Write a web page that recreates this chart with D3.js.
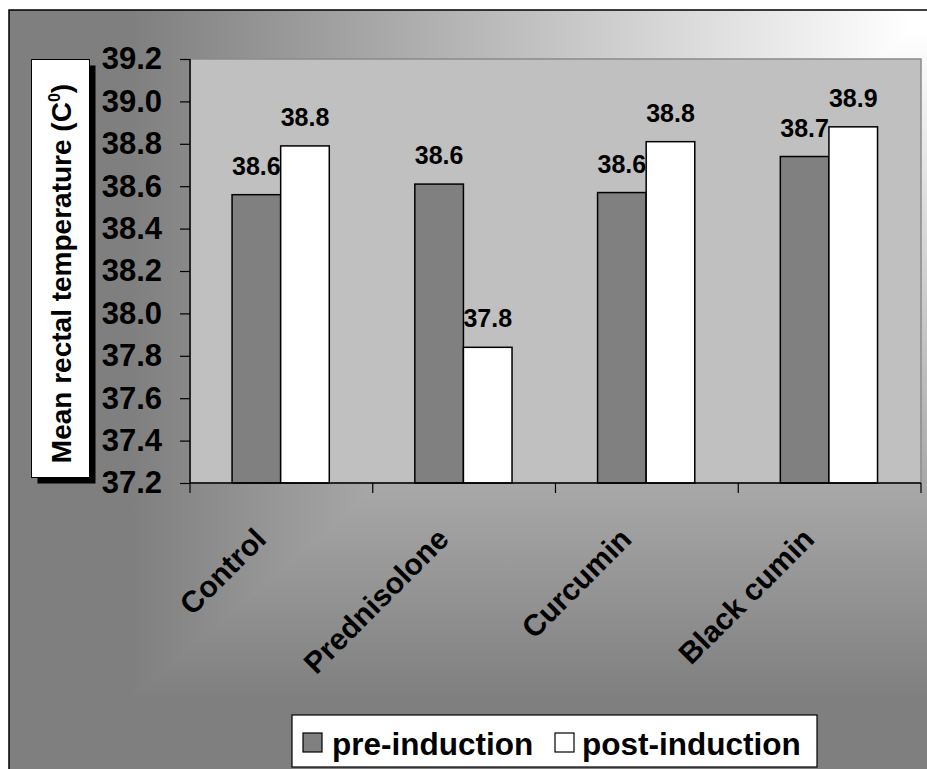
<!DOCTYPE html>
<html>
<head>
<meta charset="utf-8">
<script src="https://cdn.jsdelivr.net/npm/d3@7"></script>
<style>
  html, body { margin: 0; padding: 0; background: #ffffff; }
  svg { display: block; }
  text { font-family: "Liberation Sans", Arial, Helvetica, sans-serif; font-weight: bold; fill: #000; }
</style>
</head>
<body>
<svg id="chart" width="927" height="769"></svg>
<script>
// Mean rectal temperature per treatment group, before and after induction
const categories = ["Control", "Prednisolone", "Curcumin", "Black cumin"];
const seriesNames = ["pre-induction", "post-induction"];
const preInduction = [38.56, 38.61, 38.57, 38.74];
const postInduction = [38.79, 37.84, 38.81, 38.88];
const yTicks = [37.2, 37.4, 37.6, 37.8, 38.0, 38.2, 38.4, 38.6, 38.8, 39.0, 39.2];
const yTitle = "Mean rectal temperature (C";
const yTitleSup = "0";

const W = 927, H = 769;
const plot = { left: 190, right: 921, top: 59, bottom: 483 };
const seriesFill = { "pre-induction": "#808080", "post-induction": "#ffffff" };

const svg = d3.select("#chart");
const defs = svg.append("defs");

// Corner-style background shading: lightest at the top-right, darkening toward the left and the bottom
const gH = defs.append("linearGradient").attr("id", "bgH")
  .attr("gradientUnits", "userSpaceOnUse").attr("x1", 910).attr("y1", 0).attr("x2", 130).attr("y2", 0);
gH.append("stop").attr("offset", 0).attr("stop-color", "#ffffff");
gH.append("stop").attr("offset", 1).attr("stop-color", "#7f7f7f");
const gV = defs.append("linearGradient").attr("id", "bgV")
  .attr("gradientUnits", "userSpaceOnUse").attr("x1", 0).attr("y1", 30).attr("x2", 0).attr("y2", 700);
gV.append("stop").attr("offset", 0).attr("stop-color", "#ffffff");
gV.append("stop").attr("offset", 1).attr("stop-color", "#7f7f7f");

// split line through (910,30) and (130,700)
const slope = (700 - 30) / (130 - 910);
const yAtRight = 30 + slope * (W - 910);
const xAtBottom = 910 + (H - 30) / slope;
defs.append("clipPath").attr("id", "clipA").append("polygon")
  .attr("points", [[0, 0], [W, 0], [W, yAtRight], [xAtBottom, H], [0, H]].join(" "));
defs.append("clipPath").attr("id", "clipB").append("polygon")
  .attr("points", [[W, yAtRight - 1], [W, H], [xAtBottom - 1, H]].join(" "));

const bg = svg.append("g");
bg.append("rect").attr("x", 9).attr("y", 10).attr("width", W).attr("height", H)
  .attr("fill", "url(#bgH)").attr("clip-path", "url(#clipA)");
bg.append("rect").attr("x", 9).attr("y", 10).attr("width", W).attr("height", H)
  .attr("fill", "url(#bgV)").attr("clip-path", "url(#clipB)");
bg.append("rect").attr("x", 9).attr("y", 10).attr("width", W + 20).attr("height", H + 20)
  .attr("fill", "none").attr("stroke", "#000").attr("stroke-width", 1.5);

// Scales
const x0 = d3.scaleBand().domain(categories).range([plot.left, plot.right]).paddingInner(0).paddingOuter(0);
const x1 = d3.scaleBand().domain(seriesNames).range([0, x0.bandwidth()]).paddingInner(0).paddingOuter(0.88);
const y = d3.scaleLinear().domain([37.2, 39.2]).range([plot.bottom, plot.top]);
const fmt = d3.format(".1f");

// Plot area
svg.append("rect")
  .attr("x", plot.left).attr("y", plot.top)
  .attr("width", plot.right - plot.left).attr("height", plot.bottom - plot.top)
  .attr("fill", "#c0c0c0").attr("stroke", "#8a8a8a").attr("stroke-width", 1.5);

// Bars
const rows = categories.map((c, i) => ({
  category: c,
  values: [
    { series: "pre-induction", value: preInduction[i] },
    { series: "post-induction", value: postInduction[i] }
  ]
}));

const groups = svg.append("g").selectAll("g.group").data(rows).join("g")
  .attr("class", "group")
  .attr("transform", d => `translate(${x0(d.category) - 0.7},0)`);

groups.selectAll("rect").data(d => d.values).join("rect")
  .attr("x", d => x1(d.series))
  .attr("y", d => y(d.value))
  .attr("width", x1.bandwidth())
  .attr("height", d => y(37.2) - y(d.value))
  .attr("fill", d => seriesFill[d.series])
  .attr("stroke", "#000").attr("stroke-width", 1.5);

groups.selectAll("text.val").data(d => d.values).join("text")
  .attr("class", "val")
  .attr("x", d => x1(d.series) + x1.bandwidth() / 2)
  .attr("y", d => y(d.value) - 20)
  .attr("text-anchor", "middle")
  .style("font-size", "25px")
  .text(d => fmt(d.value));

// Y axis
const yAxis = d3.axisLeft(y).tickValues(yTicks).tickFormat(fmt).tickSize(10).tickPadding(18);
const yg = svg.append("g").attr("transform", `translate(${plot.left},0)`).call(yAxis);
yg.select(".domain").attr("stroke", "#000").attr("stroke-width", 1.5).attr("d", `M0,${plot.top}V${plot.bottom}`);
yg.selectAll(".tick line").attr("stroke", "#000").attr("stroke-width", 1.2);
yg.selectAll(".tick text")
  .style("font-size", "31px").style("font-family", '"Liberation Sans", Arial, sans-serif')
  .style("font-weight", "bold").attr("fill", "#000");

// X axis line and tick marks at category boundaries
const boundaries = categories.map(c => x0(c)).concat([plot.right]);
svg.append("line")
  .attr("x1", plot.left).attr("x2", plot.right)
  .attr("y1", plot.bottom).attr("y2", plot.bottom)
  .attr("stroke", "#000").attr("stroke-width", 1.5);
svg.append("g").selectAll("line").data(boundaries).join("line")
  .attr("x1", d => d).attr("x2", d => d)
  .attr("y1", plot.bottom).attr("y2", plot.bottom + 10)
  .attr("stroke", "#000").attr("stroke-width", 1.2);

// Category labels, rotated
svg.append("g").selectAll("text").data(categories).join("text")
  .attr("text-anchor", "end")
  .attr("transform", d => `translate(${x0(d) + x0.bandwidth() / 2 - 13.6},541) rotate(-45)`)
  .style("font-size", "30px")
  .text(d => d);

// Y axis title box with drop shadow
const tb = { x: 31.5, y: 59.5, w: 58, h: 418 };
svg.append("rect").attr("x", tb.x + 6).attr("y", tb.y + 6).attr("width", tb.w).attr("height", tb.h).attr("fill", "#000");
svg.append("rect").attr("x", tb.x).attr("y", tb.y).attr("width", tb.w).attr("height", tb.h)
  .attr("fill", "#fff").attr("stroke", "#000").attr("stroke-width", 1);
const tt = svg.append("text")
  .attr("text-anchor", "middle")
  .attr("transform", `translate(71,273.5) rotate(-90)`)
  .style("font-size", "28px");
tt.append("tspan").text(yTitle);
tt.append("tspan").attr("dy", -11).style("font-size", "16px").text(yTitleSup);
tt.append("tspan").attr("dy", 11).text(")");

// Legend
const lg = svg.append("g");
lg.append("rect").attr("x", 292).attr("y", 715).attr("width", 525).attr("height", 52)
  .attr("fill", "#fff").attr("stroke", "#000").attr("stroke-width", 1.2);
const legendPos = [{ sx: 303, tx: 332 }, { sx: 555, tx: 582 }];
seriesNames.forEach((s, i) => {
  lg.append("rect").attr("x", legendPos[i].sx).attr("y", 733).attr("width", 19).attr("height", 19)
    .attr("fill", seriesFill[s]).attr("stroke", "#000").attr("stroke-width", 1.2);
  lg.append("text").attr("x", legendPos[i].tx).attr("y", 755).style("font-size", "31.5px").text(s);
});
</script>
</body>
</html>
